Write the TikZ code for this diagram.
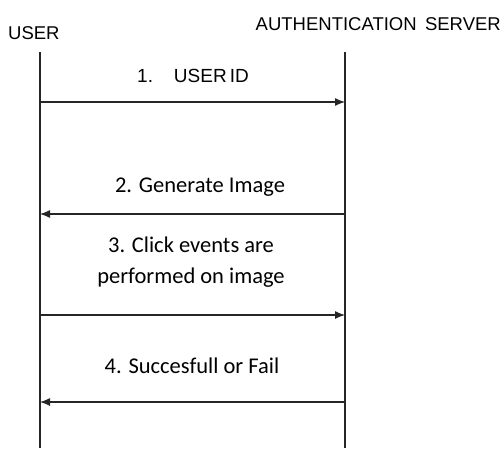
\documentclass[tikz,border=0pt]{standalone}
\usepackage{fontspec}
\setmainfont{Carlito}
\newfontfamily\headfont{Liberation Sans}
\usetikzlibrary{arrows.meta}
\begin{document}
\begin{tikzpicture}[x=1pt,y=-1pt,
  lifeline/.style={line width=1.2pt,black!85},
  msg/.style={line width=1.2pt,black!85,-{Latex[length=10pt,width=8pt]}},
  head/.style={font=\headfont\fontsize{18.5}{20}\selectfont,inner sep=0pt},
  lbl/.style={font=\fontsize{22.5}{31}\selectfont,inner sep=0pt,align=center}]
\useasboundingbox (0,0) rectangle (501,448);
\node[head,anchor=west] (user) at (8,33) {USER};
\node[head,anchor=east] (auth) at (501,24) {AUTHENTICATION\hspace{0.45em}SERVER};
\coordinate (ut) at (40,52); \coordinate (ub) at (40,448);
\coordinate (at) at (345,52); \coordinate (ab) at (345,448);
\draw[lifeline] (ut) -- (ub);
\draw[lifeline] (at) -- (ab);
\coordinate (m1a) at (40,102); \coordinate (m1b) at (345,102);
\coordinate (m2a) at (345,214); \coordinate (m2b) at (40,214);
\coordinate (m3a) at (40,315); \coordinate (m3b) at (345,315);
\coordinate (m4a) at (345,402); \coordinate (m4b) at (40,402);
\draw[msg] (m1a) -- (m1b);
\draw[msg] (m2a) -- (m2b);
\draw[msg] (m3a) -- (m3b);
\draw[msg] (m4a) -- (m4b);
\node[head,anchor=west,font=\headfont\fontsize{19}{20}\selectfont] (l1) at (137,76) {1.\hspace{1.1em}USER\,ID};
\node[lbl] (l2) at (200,187) {2. Generate Image};
\node[lbl] (l3) at (191,262) {3. Click events are\\performed on image};
\node[lbl] (l4) at (192,366) {4. Succesfull or Fail};
\end{tikzpicture}
\end{document}
